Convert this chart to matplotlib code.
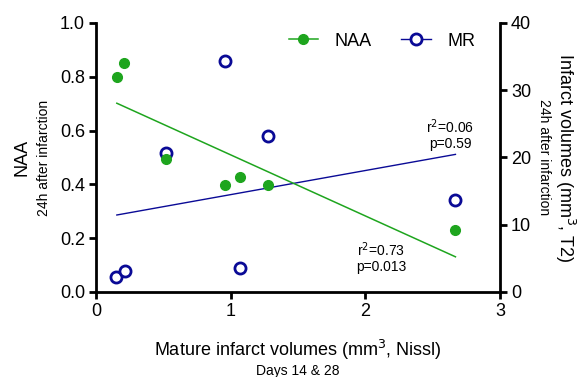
import matplotlib.pyplot as plt
from matplotlib.lines import Line2D
import numpy as np

plt.rcParams['font.family'] = ['Liberation Sans', 'DejaVu Sans']

# mature infarct volume (Nissl), shared x
naa_x = [0.154, 0.21, 0.517, 0.96, 1.07, 1.275, 2.67]
naa_y = [0.80, 0.853, 0.494, 0.399, 0.427, 0.398, 0.23]
mr_x = [0.148, 0.215, 0.517, 0.96, 1.07, 1.28, 2.67]
mr_y = [2.18, 3.17, 20.7, 34.3, 3.6, 23.2, 13.7]

green = '#1ea51e'
navy = '#0a0a96'

fig = plt.figure(figsize=(5.86, 3.77), dpi=100)
ax = fig.add_axes([0.164, 0.2255, 0.689, 0.7135])
ax2 = ax.twinx()

# fits
k, b = np.polyfit(naa_x, naa_y, 1)
xf = np.array([min(naa_x), max(naa_x)])
ax.plot(xf, k * xf + b, color=green, lw=1.1)
k2, b2 = np.polyfit(mr_x, mr_y, 1)
xf2 = np.array([min(naa_x), max(naa_x)])
ax2.plot(xf2, k2 * xf2 + b2, color=navy, lw=1.0)

ax.plot(naa_x, naa_y, 'o', color=green, ms=7, mec=green, clip_on=False)
ax2.plot(mr_x, mr_y, 'o', mfc='white', mec=navy, mew=2, ms=8, clip_on=False)

ax.set_xlim(0, 3)
ax.set_ylim(0, 1.0)
ax2.set_ylim(0, 40)
ax.set_xticks([0, 1, 2, 3])
ax.set_yticks([0, 0.2, 0.4, 0.6, 0.8, 1.0])
ax.set_yticklabels(['0.0', '0.2', '0.4', '0.6', '0.8', '1.0'])
ax2.set_yticks([0, 10, 20, 30, 40])

for a in (ax, ax2):
    a.spines['top'].set_visible(False)
    for s in ('left', 'right', 'bottom'):
        a.spines[s].set_linewidth(2)
    a.tick_params(width=2, length=5, labelsize=13, pad=3)
ax.spines['right'].set_visible(False)
ax2.spines['left'].set_visible(False)
ax2.spines['bottom'].set_visible(False)
ax.set_zorder(ax2.get_zorder() + 1)
ax.patch.set_visible(False)

# axis labels
ax.text(-0.184, 0.5, 'NAA', rotation=90, ha='center', va='center', fontsize=13,
        transform=ax.transAxes)
ax.text(-0.13, 0.5, '24h after infarction', rotation=90, ha='center', va='center',
        fontsize=10, transform=ax.transAxes)
ax.text(1.162, 0.5, 'Infarct volumes (mm$^3$, T2)', rotation=-90, ha='center',
        va='center', fontsize=13, transform=ax.transAxes)
ax.text(1.109, 0.5, '24h after infarction', rotation=-90, ha='center', va='center',
        fontsize=10, transform=ax.transAxes)
ax.text(0.5, -0.215, 'Mature infarct volumes (mm$^3$, Nissl)', ha='center', va='center',
        fontsize=13, transform=ax.transAxes)
ax.text(0.5, -0.295, 'Days 14 & 28', ha='center', va='center', fontsize=10,
        transform=ax.transAxes)

# stats
ax.text(2.63, 0.585, 'r$^2$=0.06\np=0.59', ha='center', va='center', fontsize=10,
        linespacing=1.1)
ax.text(2.12, 0.128, 'r$^2$=0.73\np=0.013', ha='center', va='center', fontsize=10,
        linespacing=1.1)

handles = [
    Line2D([], [], color=green, lw=1.1, marker='o', ms=7, mec=green),
    Line2D([], [], color=navy, lw=1.0, marker='o', mfc='white', mec=navy, mew=2, ms=8),
]
ax.legend(handles, ['NAA', 'MR'], ncol=2, frameon=False, fontsize=13,
          loc='upper right', bbox_to_anchor=(0.98, 1.025), handlelength=1.65,
          handletextpad=0.9, columnspacing=1.65)

fig.savefig('out.png', dpi=100)
